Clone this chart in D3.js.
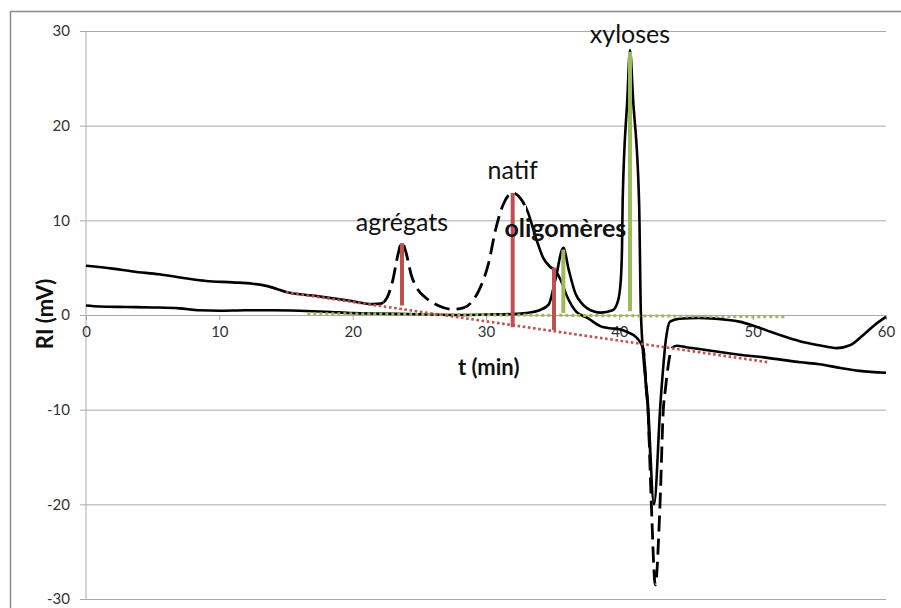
<!DOCTYPE html>
<html>
<head>
<meta charset="utf-8">
<script src="https://cdn.jsdelivr.net/npm/d3@7"></script>
<style>
  html, body { margin: 0; padding: 0; background: #fff; }
  svg { display: block; }
  text { font-family: Lato, "Open Sans", sans-serif; }
</style>
</head>
<body>
<svg id="chart" width="901" height="608"></svg>
<script>
// ---------------- DATA ----------------
const xTicks = [0, 10, 20, 30, 40, 50, 60];
const yTicks = [30, 20, 10, 0, -10, -20, -30];

// upper trace (with dashed segments): [t (min), RI (mV)]
const traceA = [
  [0,5.2],[2,4.9],[3.5,4.6],[5.5,4.3],[7.6,3.85],[9,3.6],[11,3.45],[12.5,3.3],[13.6,3.05],
  [15.1,2.4],[17.3,2.0],[19.8,1.5],[21.5,1.15],[22.1,1.2],[22.6,1.9],[23.0,3.6],[23.4,6.4],
  [23.7,7.7],[24.0,6.6],[24.4,4.2],[24.8,2.9],[25.5,1.8],[26.4,1.0],[27.5,0.6],[28.3,0.75],
  [29.0,1.5],[29.6,3.0],[30.2,5.5],[30.7,8.9],[31.3,11.7],[32.0,12.9],[32.6,12.3],[33.1,11.0],
  [33.8,7.9],[34.3,6.0],[34.8,5.1],[35.2,4.7],[35.6,3.7],[36.1,1.9],[36.8,0.3],[37.6,-0.3],
  [38.6,-1.2],[39.3,-1.4],[40.0,-1.5],[40.6,-1.8],[41.3,-2.4],[41.8,-3.6],[42.0,-7.5],
  [42.15,-10],[42.4,-20],[42.7,-28.5],[43.05,-20],[43.3,-10],[43.45,-7.9],[43.65,-5.5],
  [43.95,-3.5],[44.3,-3.25],[45,-3.4],[46,-3.6],[47,-3.8],[49,-4.2],[51,-4.5],[53.6,-5.0],
  [55,-5.2],[56.6,-5.6],[58,-5.9],[60,-6.1]
];
const dashedRangesA = [[22.3, 33.0], [41.8, 44.0]];

// lower trace (solid)
const traceB = [
  [0,1.0],[1,0.9],[3,0.85],[5,0.8],[7,0.7],[8.5,0.5],[10,0.45],[12,0.5],[14,0.5],[16,0.45],
  [18,0.35],[20,0.2],[22,0.15],[24,0.1],[26,0.05],[28,0.0],[30,0.05],[32,0.1],[33,0.2],
  [34,0.5],[34.7,1.1],[35.2,3.7],[35.8,7.1],[36.2,4.8],[36.7,2.3],[37.2,1.2],[37.6,0.7],
  [38.6,0.25],[39.5,0.5],[39.9,1.5],[40.1,3.5],[40.2,7],[40.25,12],[40.6,22.8],[40.8,28.0],
  [41.03,22.8],[41.48,12],[41.62,0],[42.15,-9.5],[42.6,-20],[43.1,-9],[43.5,-2.5],
  [43.8,-0.7],[44.5,-0.4],[46,-0.3],[48,-0.5],[49,-0.7],[50,-1.1],[51,-1.6],[52,-2.1],
  [53.6,-2.8],[55,-3.2],[56.3,-3.5],[57.3,-3.2],[58.3,-2.1],[59.2,-1.0],[60,-0.2]
];

// dotted baselines
const redBaseline = [[15.0, 2.4], [51.2, -5.0]];
const greenBaseline = [[16.6, 0.15], [52.6, -0.2]];

// peak bars: t, bottom, top
const redBars = [
  { t: 23.7, y0: 1.0, y1: 7.6 },
  { t: 32.0, y0: -1.3, y1: 12.9 },
  { t: 35.1, y0: -1.6, y1: 5.0 }
];
const greenBars = [
  { t: 35.8, y0: 0.2, y1: 6.9 },
  { t: 40.8, y0: 0.4, y1: 27.8 }
];

// peak labels
const labelNames = ["agrégats", "natif", "oligomères", "xyloses"];
const labelT = [23.7, 32.0, 35.8, 40.8];
const labelY = [7.7, 12.9, 7.1, 28.0];

const xTitle = "t (min)";
const yTitle = "RI (mV)";

// ---------------- DRAW ----------------
const svg = d3.select("#chart");
const x = d3.scaleLinear().domain([0, 60]).range([86, 886]);
const y = d3.scaleLinear().domain([-30, 30]).range([599, 31]);

const gridColor = "#a9a9a9";
const red = "#c0504d";
const green = "#9bbb59";
const tickFmt = d => String(d);

// outer frame
svg.append("rect")
  .attr("x", 10.5).attr("y", 11.5).attr("width", 1000).attr("height", 800)
  .attr("fill", "none").attr("stroke", "#8a8a8a").attr("stroke-width", 1.5);

// horizontal gridlines via axis
const yAxis = d3.axisLeft(y).tickValues(yTicks).tickSize(-(x(60) - x(0))).tickPadding(10)
  .tickFormat(tickFmt);
const gy = svg.append("g").attr("transform", `translate(${x(0)},0)`).call(yAxis);
gy.select(".domain").remove();
gy.selectAll(".tick line").attr("stroke", gridColor).attr("stroke-width", 1)
  .attr("x1", -6);
gy.selectAll(".tick text").attr("font-size", 15).attr("fill", "#333")
  .attr("font-family", "Lato, sans-serif").attr("x", -16);

// y axis line
svg.append("line").attr("x1", x(0)).attr("x2", x(0)).attr("y1", y(30)).attr("y2", y(-30))
  .attr("stroke", gridColor).attr("stroke-width", 1);

// x axis ticks at y = 0
const xAxis = d3.axisBottom(x).tickValues(xTicks).tickSize(5).tickPadding(6)
  .tickFormat(tickFmt);
const gx = svg.append("g").attr("transform", `translate(0,${y(0)})`).call(xAxis);
gx.select(".domain").attr("stroke", gridColor);
gx.selectAll(".tick line").attr("stroke", gridColor);
gx.selectAll(".tick text").attr("font-size", 15).attr("fill", "#333")
  .attr("font-family", "Lato, sans-serif");

// axis titles
svg.append("text").attr("x", x(30.2)).attr("y", 375).attr("text-anchor", "middle")
  .attr("font-size", 22).attr("font-weight", "bold").attr("fill", "#111").text(xTitle);
svg.append("text").attr("transform", `translate(53,${y(0) - 1}) rotate(-90)`)
  .attr("text-anchor", "middle").attr("font-size", 22).attr("font-weight", "bold")
  .attr("fill", "#111").text(yTitle);

// curves
const line = d3.line().x(d => x(d[0])).y(d => y(d[1])).curve(d3.curveMonotoneX);

// clip regions for solid / dashed parts of trace A
const clipDefs = svg.append("defs");
const dashedClip = clipDefs.append("clipPath").attr("id", "dashedClip");
dashedRangesA.forEach(r => {
  dashedClip.append("rect").attr("x", x(r[0])).attr("y", 0)
    .attr("width", x(r[1]) - x(r[0])).attr("height", 608);
});
const solidClip = clipDefs.append("clipPath").attr("id", "solidClip");
const bounds = [0].concat(dashedRangesA.flat()).concat([60]);
for (let i = 0; i < bounds.length; i += 2) {
  solidClip.append("rect").attr("x", x(bounds[i]) - (i === 0 ? 5 : 0)).attr("y", 0)
    .attr("width", x(bounds[i + 1]) - x(bounds[i]) + (i === 0 ? 5 : 5)).attr("height", 608);
}

svg.append("path").datum(traceA).attr("d", line)
  .attr("fill", "none").attr("stroke", "#000").attr("stroke-width", 2.6)
  .attr("stroke-linejoin", "round").attr("clip-path", "url(#solidClip)");
svg.append("path").datum(traceA).attr("d", line)
  .attr("fill", "none").attr("stroke", "#000").attr("stroke-width", 2.8)
  .attr("stroke-dasharray", "16,7").attr("clip-path", "url(#dashedClip)");

svg.append("path").datum(traceB).attr("d", line)
  .attr("fill", "none").attr("stroke", "#000").attr("stroke-width", 2.6)
  .attr("stroke-linejoin", "round");

// dotted baselines
const straight = d3.line().x(d => x(d[0])).y(d => y(d[1]));
svg.append("path").datum(greenBaseline).attr("d", straight)
  .attr("fill", "none").attr("stroke", green).attr("stroke-width", 3)
  .attr("stroke-dasharray", "3,3");
svg.append("path").datum(redBaseline).attr("d", straight)
  .attr("fill", "none").attr("stroke", red).attr("stroke-width", 2.6)
  .attr("stroke-dasharray", "2.6,2.6");

// bars
svg.selectAll(".rbar").data(redBars).enter().append("line")
  .attr("x1", d => x(d.t)).attr("x2", d => x(d.t))
  .attr("y1", d => y(d.y0)).attr("y2", d => y(d.y1))
  .attr("stroke", red).attr("stroke-width", 4);
svg.selectAll(".gbar").data(greenBars).enter().append("line")
  .attr("x1", d => x(d.t)).attr("x2", d => x(d.t))
  .attr("y1", d => y(d.y0)).attr("y2", d => y(d.y1))
  .attr("stroke", green).attr("stroke-width", 4);

// labels
const labelDx = [0, 0, 2, 0];
const labelDy = [-11, -14, -11, -7];
const labelWeight = ["normal", "normal", "bold", "normal"];
labelNames.forEach((name, i) => {
  svg.append("text")
    .attr("x", x(labelT[i]) + labelDx[i])
    .attr("y", y(labelY[i]) + labelDy[i])
    .attr("text-anchor", "middle")
    .attr("font-size", 25).attr("font-weight", labelWeight[i])
    .attr("fill", "#111").text(name);
});
</script>
</body>
</html>
